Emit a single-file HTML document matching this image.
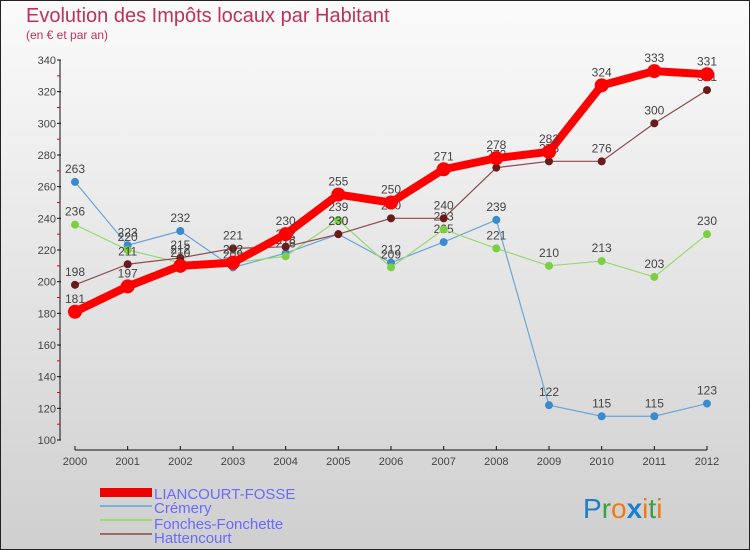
<!DOCTYPE html>
<html><head><meta charset="utf-8"><style>
body{margin:0;width:750px;height:550px;overflow:hidden;font-family:"Liberation Sans",sans-serif}
svg{display:block}
</style></head><body>
<svg width="750" height="550" xmlns="http://www.w3.org/2000/svg">
<defs><linearGradient id="bg" x1="0" y1="0" x2="0" y2="1"><stop offset="0" stop-color="#fbfbfb"/><stop offset="1" stop-color="#cfcfcf"/></linearGradient></defs>
<rect x="0.5" y="0.5" width="749" height="549" fill="url(#bg)" stroke="#222"/>
<text x="26" y="22" font-size="20" fill="#c0305a">Evolution des Impôts locaux par Habitant</text>
<text x="26" y="39" font-size="12" fill="#c0305a">(en € et par an)</text>
<g id="axes"></g><g id="series"></g>
<g>
<rect x="100" y="488" width="52" height="9" fill="#e00"/>
<text x="154" y="499" font-size="15" fill="#6a6aff">LIANCOURT-FOSSE</text>
<rect x="100" y="505" width="52" height="2" fill="#7ab0d8"/>
<text x="154" y="513" font-size="15" fill="#6a6aff">Crémery</text>
<rect x="100" y="519" width="52" height="2" fill="#9ad870"/>
<text x="154" y="529" font-size="15" fill="#6a6aff">Fonches-Fonchette</text>
<rect x="100" y="533" width="52" height="2" fill="#9a6a6a"/>
<text x="154" y="543" font-size="15" fill="#6a6aff">Hattencourt</text>
</g>
<g font-size="28" font-family="Liberation Sans,sans-serif">
<text x="583" y="518"><tspan fill="#1a7fd0">P</tspan><tspan fill="#3aa040">r</tspan><tspan fill="#f07a10">o</tspan><tspan fill="#1a7fd0" font-weight="bold">x</tspan><tspan fill="#f07a10">i</tspan><tspan fill="#3aa040">t</tspan><tspan fill="#f07a10">i</tspan></text>
</g>
</svg>
<script>
const years=["2000","2001","2002","2003","2004","2005","2006","2007","2008","2009","2010","2011","2012"];
const yTicks=[100,120,140,160,180,200,220,240,260,280,300,320,340];
const liancourt=[181,197,210,212,230,255,250,271,278,282,324,333,331];
const cremery=[263,223,232,209,218,230,212,225,239,122,115,115,123];
const fonches=[236,220,212,212,216,239,209,233,221,210,213,203,230];
const hattencourt=[198,211,215,221,222,230,240,240,272,276,276,300,321];
const NS="http://www.w3.org/2000/svg";
function xs(i){return 75+i*(632/12);}
function ys(v){return 440-(v-100)*380/240;}
function mk(t,a,p){const e=document.createElementNS(NS,t);for(const k in a)e.setAttribute(k,a[k]);(p||document.getElementById('series')).appendChild(e);return e;}
const ax=document.getElementById('axes');
let l=mk('line',{x1:60,y1:60,x2:60,y2:440,stroke:'#111','stroke-width':1},ax);


l=mk('line',{x1:75,y1:450,x2:707,y2:450,stroke:'#111','stroke-width':1},ax);


yTicks.forEach((v,i)=>{
 mk('line',{x1:57,y1:ys(v),x2:61,y2:ys(v),stroke:'#111'},ax);
 if(i<yTicks.length-1)mk('line',{x1:57,y1:ys(v+10),x2:60,y2:ys(v+10),stroke:'#e00'},ax);
 const t=mk('text',{x:56,y:ys(v)+4,'font-size':11,fill:'#444','text-anchor':'end'},ax);
 t.textContent=v;
 
 
});
years.forEach((y,i)=>{
 mk('line',{x1:xs(i),y1:446,x2:xs(i),y2:450,stroke:'#111'},ax);
 const t=mk('text',{x:xs(i),y:465,'font-size':11,fill:'#444','text-anchor':'middle'},ax);
 t.textContent=y;
 
 
});
function series(d,name,color,dot,w,r){
 const g=mk('g',{});
 
 
 mk('polyline',{points:d.map((v,i)=>xs(i)+','+ys(v)).join(' '),fill:'none',stroke:color,'stroke-width':w,'stroke-linejoin':'round'},g);
 d.forEach((v,i)=>{
  const c=mk('circle',{cx:xs(i),cy:ys(v),r:r,fill:dot},g);
  
  
  const t=mk('text',{x:xs(i),y:ys(v)-9,'font-size':12,fill:'#444','text-anchor':'middle'},g);
  t.textContent=v;
  
  
 });
}
series(cremery,'cremery','#6aa6d8','#3a8ad0',1.2,4);
series(fonches,'fonches','#9ad870','#7ad040',1.2,4);
series(hattencourt,'hattencourt','#8a4a4a','#6a1a1a',1.2,4);
series(liancourt,'liancourt','#ff0000','#ff0000',8,7);
</script>
</body></html>
